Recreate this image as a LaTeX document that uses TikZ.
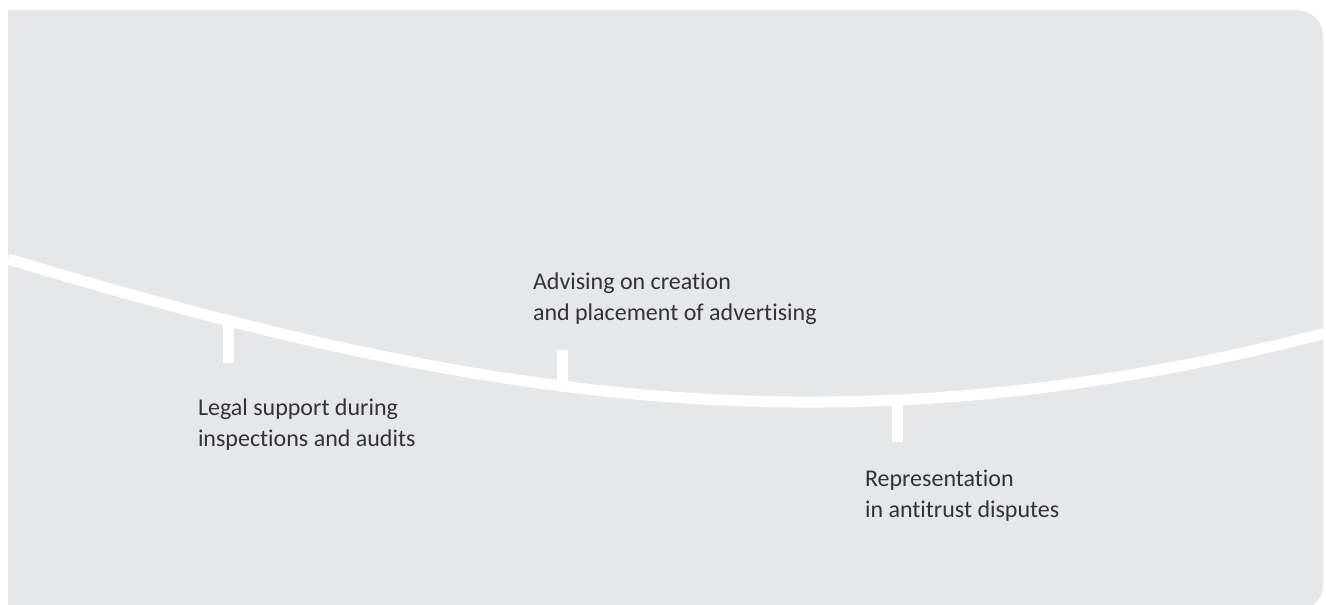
\documentclass[tikz,border=0pt]{standalone}
\usepackage{fontspec}
\setmainfont[Ligatures=NoCommon]{Carlito}
\definecolor{panelgray}{HTML}{E6E7E8}
\definecolor{stageink}{HTML}{333335}
\tikzset{
  band/.style={draw=white, line width=11pt},
  tickbar/.style={draw=white, line width=11pt},
  stagetext/.style={anchor=base west, align=left, text=stageink,
    font=\fontsize{24}{31}\selectfont}
}
\begin{document}
\begin{tikzpicture}[y=1pt, x=1pt, yscale=-1, inner sep=0pt, outer sep=0pt]
  \clip (0,0) rectangle (1326,605);
  % panel
  \fill[panelgray, rounded corners=26pt] (8,10) rectangle (1323,611);
  \fill[panelgray] (8,10) rectangle (100,611);
  % the curve
  \coordinate (bandstart) at (8,259);
  \coordinate (bandend) at (1330,332);
  \draw[band] (bandstart) .. controls (458,394) and (826,463) .. (bandend);
  % ticks
  \coordinate (tickA top) at (228,322);
  \coordinate (tickA foot) at (228,363);
  \coordinate (tickB top) at (562,350);
  \coordinate (tickB foot) at (562,388);
  \coordinate (tickC top) at (897,402);
  \coordinate (tickC foot) at (897,442);
  \draw[tickbar] (tickA top) -- (tickA foot);
  \draw[tickbar] (tickB top) -- (tickB foot);
  \draw[tickbar] (tickC top) -- (tickC foot);
  % texts (base = last line)
  \node[stagetext] (legal) at (198,446) {Legal support during\\inspections and audits};
  \node[stagetext] (advising) at (533,320) {Advising on creation\\and placement of advertising};
  \node[stagetext] (antitrust) at (865,517) {Representation\\in antitrust disputes};
\end{tikzpicture}
\end{document}
